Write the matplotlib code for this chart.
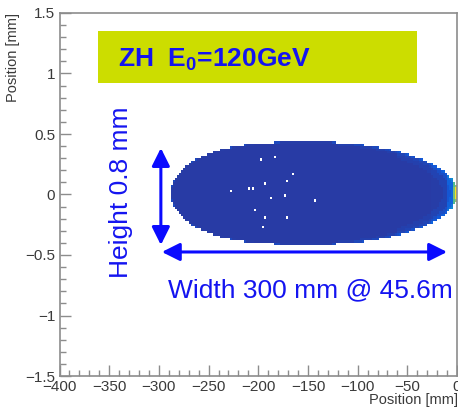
import numpy as np
import matplotlib
matplotlib.use("Agg")
import matplotlib.pyplot as plt
from matplotlib.colors import LinearSegmentedColormap
from matplotlib.patches import Rectangle
from matplotlib.ticker import MultipleLocator, FuncFormatter

plt.rcParams["font.family"] = ["Liberation Sans", "DejaVu Sans"]
plt.rcParams["mathtext.fontset"] = "custom"
plt.rcParams["mathtext.rm"] = "Liberation Sans"
plt.rcParams["mathtext.bf"] = "Liberation Sans:bold"

# ---------- data ----------
# beam footprint (mm / mm): left/right end, bottom/top
foot_x = [-288.0, 1.0]
foot_y = [-0.415, 0.435]
foot_power = [3.0, 2.0]     # edge exponent of left half / right half
bin_x = 2.0
bin_y = 0.02

# colour level (0..1 of the palette) by x zone and normalised footprint radius
zone_x = [-300, -120, -60, -25, -10, -4, -2, 10]
zone_s = [0.0, 0.80, 0.90, 0.96, 0.99, 1.0]
zone_level = [
    [0.045, 0.045, 0.045, 0.050, 0.080],
    [0.045, 0.045, 0.055, 0.075, 0.100],
    [0.045, 0.055, 0.070, 0.095, 0.120],
    [0.050, 0.065, 0.090, 0.120, 0.150],
    [0.080, 0.110, 0.150, 0.220, 0.300],
    [0.450, 0.500, 0.600, 0.550, 0.400],
    [1.000, 1.000, 1.000, 0.950, 0.650],
]

# empty bins inside the footprint
hole_x = [-226.7, -208.3, -204.3, -196.5, -182.4, -164.7, -170.8, -192.5,
          -187.2, -172.8, -202.6, -192.5, -170.8, -194.5, -142.9]
hole_y = [0.023, 0.051, 0.051, 0.293, 0.312, 0.175, 0.114, 0.087,
          -0.031, -0.018, -0.139, -0.183, -0.197, -0.260, -0.045]

# ROOT kBird palette stops
bird = ["#352a87", "#0f5cdd", "#1481d6", "#06a4ca", "#2eb7a4",
        "#87bf77", "#d1bb59", "#fec832", "#f9fb0e"]

title_text = r"ZH  E$_\mathbf{0}$=120GeV"
height_text = "Height 0.8 mm"
width_text = "Width 300 mm @ 45.6m"
axis_label = "Position [mm]"

# ---------- histogram cells ----------
cx = 0.5 * (foot_x[0] + foot_x[1])
hx = 0.5 * (foot_x[1] - foot_x[0])
cy = 0.5 * (foot_y[0] + foot_y[1])
hy = 0.5 * (foot_y[1] - foot_y[0])

nx = int(round((zone_x[-1] - zone_x[0]) / bin_x))
ny = int(round(1.0 / bin_y))
xe = np.linspace(zone_x[0], zone_x[-1], nx + 1)
ye = np.linspace(-0.5, 0.5, ny + 1)
X, Y = np.meshgrid(0.5 * (xe[1:] + xe[:-1]), 0.5 * (ye[1:] + ye[:-1]))
u = np.abs(X - cx) / hx
p = np.where(X < cx, foot_power[0], foot_power[1])
s = u ** p + ((Y - cy) / hy) ** 2
ix = np.clip(np.digitize(X, zone_x) - 1, 0, len(zone_x) - 2)
js = np.clip(np.digitize(s, zone_s) - 1, 0, len(zone_s) - 2)
vals = np.array(zone_level)[ix, js]
mask = s > 1.0
for px, py in zip(hole_x, hole_y):
    i = np.searchsorted(ye, py) - 1
    j = np.searchsorted(xe, px) - 1
    mask[i, j] = True
vals = np.ma.masked_array(vals, mask)

cmap = LinearSegmentedColormap.from_list("bird", bird)

# ---------- figure ----------
fig = plt.figure(figsize=(4.58, 4.08), dpi=100)
ax = fig.add_axes([59.5 / 458, 1 - 376 / 408, 397.5 / 458, 363 / 408])
ax.pcolormesh(xe, ye, vals, cmap=cmap, vmin=0, vmax=1, shading="flat")
ax.set_xlim(-400, 0)
ax.set_ylim(-1.5, 1.5)

fmt = FuncFormatter(lambda v, pos: ("%g" % v).replace("-", "\u2212"))
ax.xaxis.set_major_locator(MultipleLocator(50))
ax.xaxis.set_minor_locator(MultipleLocator(10))
ax.yaxis.set_major_locator(MultipleLocator(0.5))
ax.yaxis.set_minor_locator(MultipleLocator(0.1))
ax.xaxis.set_major_formatter(fmt)
ax.yaxis.set_major_formatter(fmt)
ax.tick_params(which="both", direction="in", top=False, right=False,
               color="#8c8c8c", labelcolor="#3a3a3a", labelsize=11, pad=3)
ax.tick_params(which="major", length=8, width=1)
ax.tick_params(which="minor", length=4, width=1)
for sp in ax.spines.values():
    sp.set_color("#8c8c8c")
    sp.set_linewidth(1.2)

ax.set_xlabel(axis_label, fontsize=10.5, color="#3a3a3a", ha="right", va="top")
ax.xaxis.set_label_coords(1.003, -0.047)
ax.set_ylabel(axis_label, fontsize=10.5, color="#3a3a3a", ha="right")
ax.yaxis.set_label_coords(-0.1, 1.0)

# label box
ax.add_patch(Rectangle((-361.3, 0.921), 321.0, 0.43, facecolor="#ccdd00",
                       edgecolor="none", zorder=3))
ax.text(-341, 1.054, title_text, fontsize=19, fontweight="bold", color="#1414f0",
        va="baseline", ha="left", zorder=4)

# size arrows
arrow = dict(arrowstyle="<|-|>,head_length=0.6,head_width=0.3", color="#0a0aff",
             lw=2.2, mutation_scale=18, shrinkA=0, shrinkB=0)
ax.annotate("", xy=(-298, 0.384), xytext=(-298, -0.417), arrowprops=arrow, zorder=5)
ax.annotate("", xy=(-297, -0.475), xytext=(-10, -0.475), arrowprops=arrow, zorder=5)

ax.text(-338, 0.021, height_text, rotation=90, fontsize=19, color="#1414f0",
        ha="center", va="center")
ax.text(-291, -0.847, width_text, fontsize=19, color="#1414f0",
        ha="left", va="baseline", clip_on=False)

fig.savefig("out.png", dpi=100)
